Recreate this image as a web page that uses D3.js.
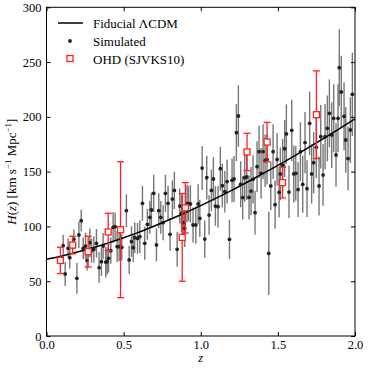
<!DOCTYPE html>
<html><head><meta charset="utf-8">
<script src="https://cdn.jsdelivr.net/npm/d3@7"></script>
<style>body{margin:0;background:#fff}svg{display:block}text{font-family:"Liberation Serif","DejaVu Serif",serif}</style>
</head><body><svg id="c" width="374" height="374"></svg>
<script>
// Simulated data (z, H, error)
const simZ = [0.108,0.121,0.140,0.151,0.177,0.197,0.210,0.225,0.238,0.253,0.263,0.281,0.292,0.307,0.324,0.341,0.356,0.367,0.384,0.393,0.402,0.417,0.432,0.445,0.458,0.471,0.488,0.518,0.536,0.551,0.562,0.572,0.590,0.605,0.622,0.637,0.654,0.670,0.680,0.695,0.713,0.728,0.741,0.756,0.771,0.788,0.801,0.816,0.829,0.847,0.864,0.875,0.886,0.896,0.911,0.920,0.933,0.950,0.968,0.983,0.994,1.009,1.026,1.039,1.054,1.069,1.082,1.095,1.112,1.127,1.140,1.156,1.171,1.186,1.203,1.216,1.231,1.244,1.259,1.272,1.285,1.298,1.313,1.326,1.339,1.352,1.365,1.378,1.391,1.404,1.417,1.430,1.441,1.454,1.469,1.482,1.495,1.508,1.516,1.531,1.544,1.555,1.572,1.590,1.603,1.616,1.631,1.646,1.661,1.676,1.689,1.706,1.719,1.732,1.749,1.767,1.778,1.793,1.806,1.821,1.834,1.849,1.862,1.877,1.890,1.898,1.911,1.929,1.940,1.955,1.970,1.983];
const simH = [82.4,56.6,80.0,71.5,88.2,52.6,92.2,105.3,80.0,82.1,68.8,85.2,77.9,79.1,84.6,62.4,67.8,82.1,67.5,67.8,70.9,77.9,99.2,99.8,81.5,81.5,80.9,114.4,69.4,86.1,80.6,89.7,89.1,90.7,121.1,84.6,101.9,108.3,115.0,130.2,83.1,114.4,108.3,103.4,130.2,121.1,92.8,125.0,132.9,79.1,118.6,112.0,103.4,98.3,120.8,120.8,120.5,101.3,101.3,120.5,107.4,153.3,88.5,144.5,110.4,132.9,143.3,118.6,118.0,152.7,137.2,131.7,140.9,88.2,142.1,143.3,185.6,200.8,138.4,126.3,144.5,145.1,126.6,132.3,143.0,112.6,154.5,168.2,148.5,168.2,160.0,161.2,75.4,136.9,168.2,119.9,161.2,131.1,147.9,155.8,171.0,184.4,131.4,187.7,147.9,148.5,133.6,168.2,138.4,176.5,134.5,194.1,147.9,158.2,172.2,136.9,181.9,146.9,181.9,189.5,203.2,183.4,198.7,165.2,198.7,244.9,222.7,200.5,178.9,161.9,188.0,220.6];
const simErr = [10,11,9,10,9,14,12,10,10,12,9,13,11,12,13,14,13,12,14,12,13,12,14,13,14,13,12,15,13,14,13,14,14,15,16,15,14,15,16,17,15,16,15,16,17,16,15,17,17,16,16,17,16,17,17,16,17,16,17,18,17,20,17,20,18,19,20,18,19,20,20,19,20,18,20,21,26,28,21,20,22,21,20,22,22,20,23,24,23,25,24,23,38,22,25,22,24,23,24,24,26,27,24,28,26,25,25,27,26,28,26,29,27,28,28,27,29,28,30,30,31,30,31,29,31,35,33,31,30,29,30,38];
// OHD (SJVKS10)
const ohdZ = [0.09,0.17,0.27,0.40,0.48,0.88,0.90,1.30,1.43,1.53,1.75];
const ohdH = [69,83,77,95,97,90,117,168,177,140,202];
const ohdErr = [12,8,14,17,62,40,23,17,18,14,40];
// Fiducial LCDM curve, read at z = 0,0.1,...,2.0
const fidZ = [0,0.1,0.2,0.3,0.4,0.5,0.6,0.7,0.8,0.9,1.0,1.1,1.2,1.3,1.4,1.5,1.6,1.7,1.8,1.9,2.0];
const fidH = [70,73.1,76.6,80.5,84.9,89.7,94.8,100.4,106.3,112.5,119.0,125.8,132.9,140.3,147.9,155.7,163.8,172.1,180.6,189.3,198.2];
const xTicks = [0,0.5,1.0,1.5,2.0];
const xTickLabels = ["0.0","0.5","1.0","1.5","2.0"];
const yTicks = [0,50,100,150,200,250,300];
const yTickLabels = ["0","50","100","150","200","250","300"];

const svg = d3.select("#c");
const L=46.5,R=355,T=7.3,B=336;
const x = d3.scaleLinear().domain([0,2]).range([L,R]);
const y = d3.scaleLinear().domain([0,300]).range([B,T]);

// simulated error bars
const sim = simZ.map((z,i)=>({z,h:simH[i],e:simErr[i]}));
svg.append("g").selectAll("line").data(sim).join("line")
  .attr("x1",d=>x(d.z)).attr("x2",d=>x(d.z))
  .attr("y1",d=>y(d.h-d.e)).attr("y2",d=>y(d.h+d.e))
  .attr("stroke","#555").attr("stroke-width",1.4).attr("stroke-opacity",0.8);
svg.append("g").selectAll("circle").data(sim).join("circle")
  .attr("cx",d=>x(d.z)).attr("cy",d=>y(d.h)).attr("r",1.9).attr("fill","#222");

// fiducial curve
const fid = fidZ.map((z,i)=>({z,h:fidH[i]}));
svg.append("path").datum(fid)
  .attr("d",d3.line().x(d=>x(d.z)).y(d=>y(d.h)).curve(d3.curveCatmullRom))
  .attr("fill","none").attr("stroke","#000").attr("stroke-width",1.5);

// OHD
const ohd = ohdZ.map((z,i)=>({z,h:ohdH[i],e:ohdErr[i]}));
const og = svg.append("g").attr("stroke","#ff2020").attr("stroke-width",1.3);
og.selectAll(".v").data(ohd).join("line")
  .attr("x1",d=>x(d.z)).attr("x2",d=>x(d.z)).attr("y1",d=>y(d.h-d.e)).attr("y2",d=>y(d.h+d.e));
og.selectAll(".ct").data(ohd).join("line")
  .attr("x1",d=>x(d.z)-3.5).attr("x2",d=>x(d.z)+3.5).attr("y1",d=>y(d.h+d.e)).attr("y2",d=>y(d.h+d.e));
og.selectAll(".cb").data(ohd).join("line")
  .attr("x1",d=>x(d.z)-3.5).attr("x2",d=>x(d.z)+3.5).attr("y1",d=>y(d.h-d.e)).attr("y2",d=>y(d.h-d.e));
og.selectAll("rect").data(ohd).join("rect")
  .attr("x",d=>x(d.z)-3).attr("y",d=>y(d.h)-3).attr("width",6).attr("height",6).attr("fill","#fff");

// frame & ticks
svg.append("rect").attr("x",L).attr("y",T).attr("width",R-L).attr("height",B-T)
  .attr("fill","none").attr("stroke","#000").attr("stroke-width",1);
const ax = (g,axis)=>{g.call(axis);g.select(".domain").remove();g.selectAll("text").attr("font-family","'Liberation Serif',serif").attr("font-size",12.5).attr("fill","#000");};
svg.append("g").attr("transform",`translate(0,${B})`).call(g=>ax(g,d3.axisBottom(x).tickValues(xTicks).tickFormat((d,i)=>xTickLabels[i]).tickSizeInner(-4).tickPadding(4)));
svg.append("g").attr("transform",`translate(0,${T})`).call(g=>ax(g,d3.axisTop(x).tickValues(xTicks).tickFormat("").tickSizeInner(-4)));
svg.append("g").attr("transform",`translate(${L},0)`).call(g=>ax(g,d3.axisLeft(y).tickValues(yTicks).tickFormat((d,i)=>yTickLabels[i]).tickSizeInner(-4).tickPadding(5)));
svg.append("g").attr("transform",`translate(${R},0)`).call(g=>ax(g,d3.axisRight(y).tickValues(yTicks).tickFormat("").tickSizeInner(-4)));
svg.selectAll(".tick line").attr("stroke","#000");

// axis labels
svg.append("text").attr("x",(L+R)/2).attr("y",362).attr("text-anchor","middle")
  .attr("font-size",12.5).attr("font-style","italic").text("z");
const yl = svg.append("text").attr("transform",`translate(16,${(T+B)/2}) rotate(-90)`)
  .attr("text-anchor","middle").attr("font-size",13);
yl.append("tspan").attr("font-style","italic").text("H");
yl.append("tspan").text("(");
yl.append("tspan").attr("font-style","italic").text("z");
yl.append("tspan").text(") [km s");
yl.append("tspan").attr("font-size",9).attr("dy",-5).text("\u22121");
yl.append("tspan").attr("dy",5).text(" Mpc");
yl.append("tspan").attr("font-size",9).attr("dy",-5).text("\u22121");
yl.append("tspan").attr("dy",5).text("]");

// legend
const lg = svg.append("g");
lg.append("line").attr("x1",58).attr("x2",83).attr("y1",23).attr("y2",23).attr("stroke","#000").attr("stroke-width",1.5);
lg.append("circle").attr("cx",70).attr("cy",41).attr("r",1.9).attr("fill","#222");
lg.append("rect").attr("x",67).attr("y",55.5).attr("width",6).attr("height",6).attr("fill","#fff").attr("stroke","#ff2020").attr("stroke-width",1.3);
const lt = ["Fiducial \u039BCDM","Simulated","OHD (SJVKS10)"];
lg.selectAll(".lt").data(lt).join("text").attr("x",93).attr("y",(d,i)=>23+i*18+4.5)
  .attr("font-size",13).text(d=>d);
</script></body></html>
